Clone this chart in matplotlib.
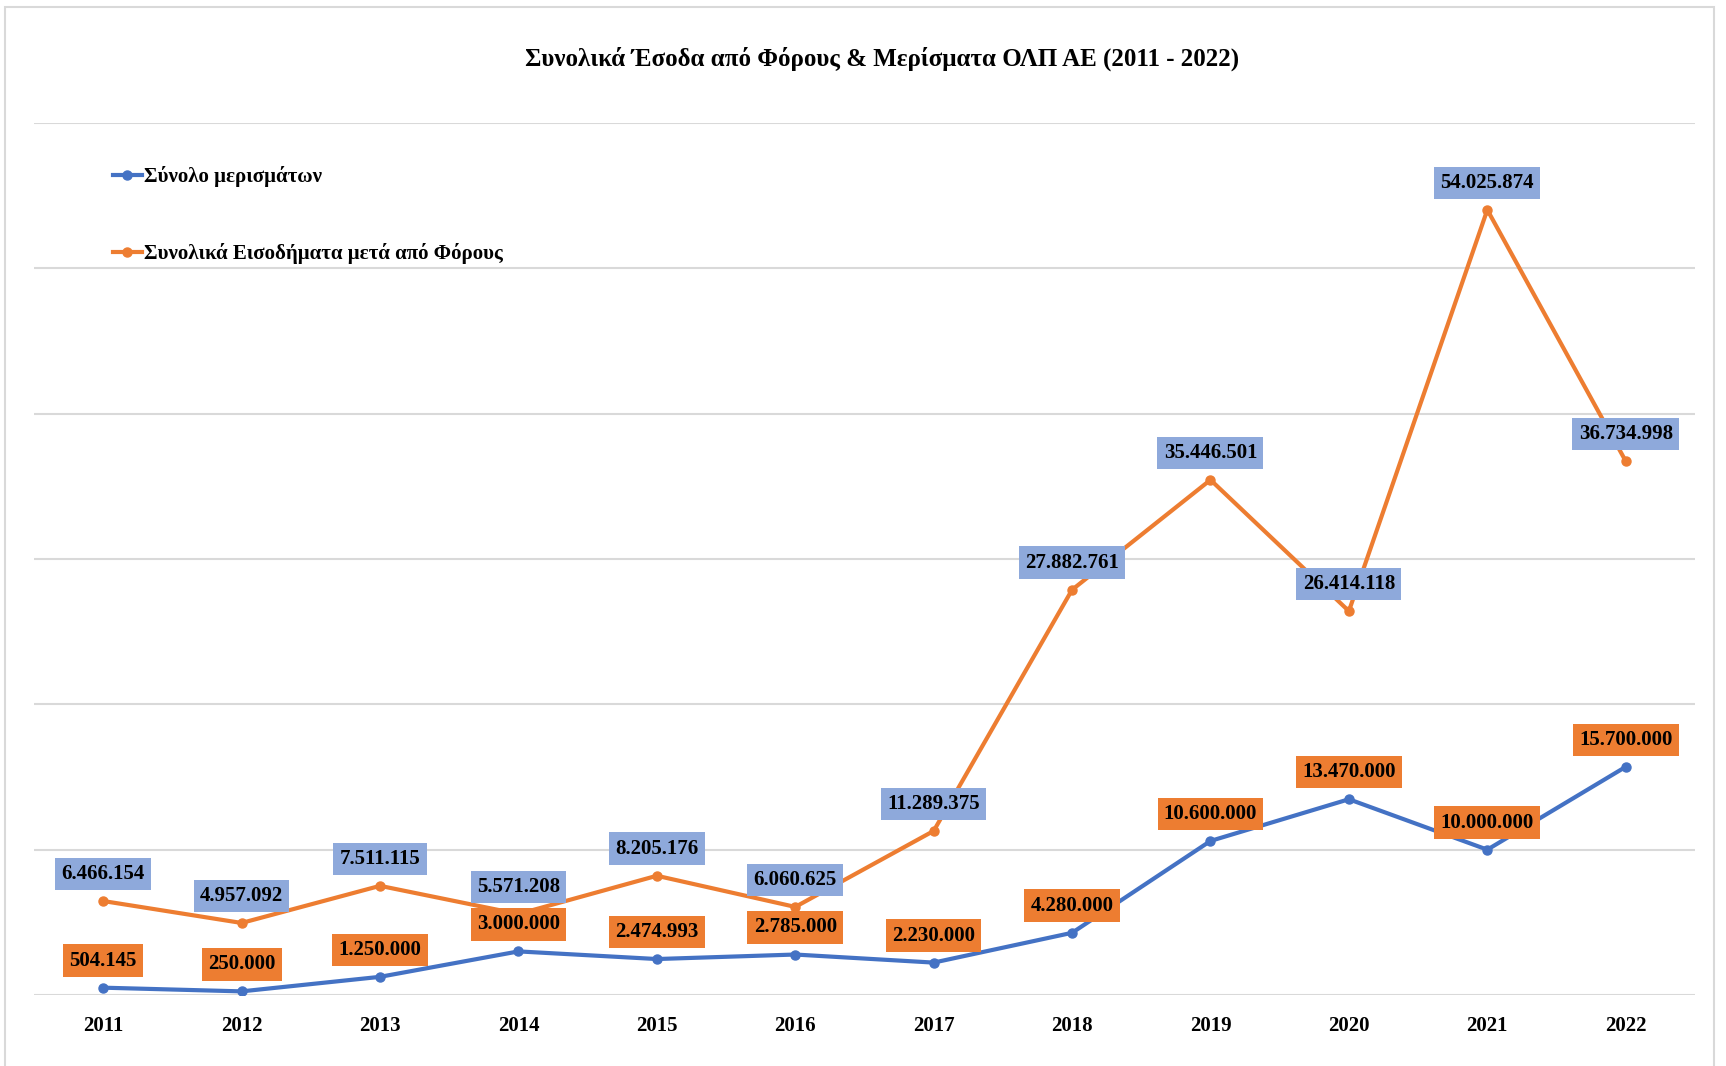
import matplotlib.pyplot as plt
from matplotlib.patches import Rectangle

years = ['2011', '2012', '2013', '2014', '2015', '2016',
         '2017', '2018', '2019', '2020', '2021', '2022']
dividends = [504145, 250000, 1250000, 3000000, 2474993, 2785000,
             2230000, 4280000, 10600000, 13470000, 10000000, 15700000]
income_after_tax = [6466154, 4957092, 7511115, 5571208, 8205176, 6060625,
                    11289375, 27882761, 35446501, 26414118, 54025874, 36734998]

title = 'Συνολικά Έσοδα από Φόρους & Μερίσματα ΟΛΠ ΑΕ (2011 - 2022)'
name_div = 'Σύνολο μερισμάτων'
name_inc = 'Συνολικά Εισοδήματα μετά από Φόρους'

blue = '#4472C4'
orange = '#ED7D31'
box_blue = '#8EA9DB'

plt.rcParams['font.family'] = ['Liberation Serif', 'DejaVu Serif']
plt.rcParams['font.weight'] = 'bold'


def greek_fmt(v):
    return f'{v:,}'.replace(',', '.')


fig = plt.figure(figsize=(17.26, 10.66), dpi=100)
ax = fig.add_axes([0.0197, 0.0666, 0.9623, 0.818])

x = list(range(len(years)))
ax.plot(x, dividends, color=blue, lw=3, marker='o', ms=6.5, label=name_div, zorder=3)
ax.plot(x, income_after_tax, color=orange, lw=3, marker='o', ms=6.5, label=name_inc, zorder=3)

# data labels: orange boxes for dividends, blue boxes for income
for xi, v in zip(x, dividends):
    ax.annotate(greek_fmt(v), (xi, v), xytext=(0, 19.5), textcoords='offset points',
                ha='center', va='center', fontsize=15, fontweight='bold', zorder=5,
                bbox=dict(boxstyle='square,pad=0.3', fc=orange, ec='none'))
for xi, v in zip(x, income_after_tax):
    ax.annotate(greek_fmt(v), (xi, v), xytext=(0, 19.5), textcoords='offset points',
                ha='center', va='center', fontsize=15, fontweight='bold', zorder=5,
                bbox=dict(boxstyle='square,pad=0.3', fc=box_blue, ec='none'))

ax.set_xlim(-0.5, 11.5)
ax.set_ylim(0, 60000000)
ax.set_yticks(range(0, 60000001, 10000000))
ax.set_yticklabels([])
ax.set_xticks(x)
ax.set_xticklabels(years, fontsize=15, fontweight='bold')
ax.tick_params(length=0, pad=15)
ax.grid(axis='y', color='#d9d9d9', lw=1.5)
ax.set_axisbelow(True)
for s in ax.spines.values():
    s.set_visible(False)

fig.text(0.511, 0.945, title, ha='center', va='center', fontsize=18, fontweight='bold')

ax.legend(loc='upper left', bbox_to_anchor=(0.0545, 0.862), bbox_transform=fig.transFigure,
          frameon=False, handlelength=1.4, handletextpad=0.1,
          labelspacing=2.7, prop={'weight': 'bold', 'size': 15})

fig.patches.append(Rectangle((0.003, -0.01), 0.99, 1.003, transform=fig.transFigure,
                             fill=False, ec='#d9d9d9', lw=1.5))

fig.savefig('out.png', dpi=100)
